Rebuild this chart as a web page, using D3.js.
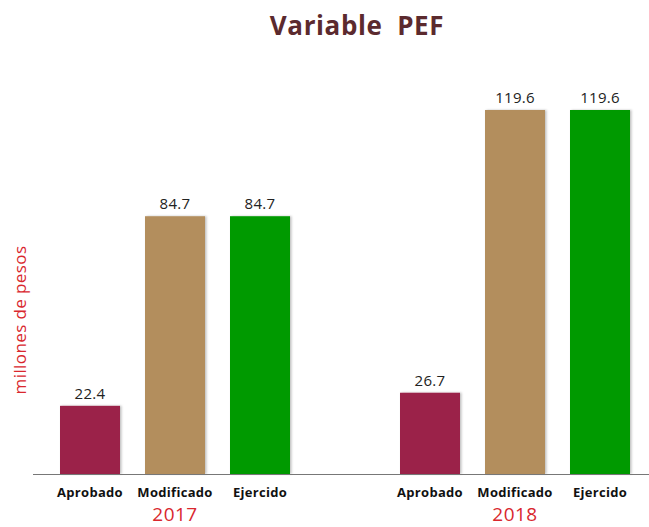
<!DOCTYPE html>
<meta charset="utf-8">
<style type="text/css">
  body { margin: 0; background: #fff; }
  svg { display: block; font-family: "Open Sans", "Noto Sans", sans-serif; }
</style>
<svg width="649" height="527"></svg>
<script src="https://d3js.org/d3.v7.min.js"></script>
<script>

var years = ["2017", "2018"];
var categories = ["Aprobado", "Modificado", "Ejercido"];
var values2017 = [22.4, 84.7, 84.7];
var values2018 = [26.7, 119.6, 119.6];
var colors = ["#9b2448", "#b38e5d", "#009a00"];

var svg = d3.select("svg"),
    width = +svg.attr("width"),
    height = +svg.attr("height");

var data = [];
years.forEach(function(y, i){
  var vals = i == 0 ? values2017 : values2018;
  categories.forEach(function(c, j){
    data.push({year: y, cat: c, value: vals[j]});
  });
});

var baseline = 474;

var y = d3.scaleLinear()
    .domain([0, 119.6])
    .range([baseline, 110]);

var x0 = d3.scaleBand()
    .domain(years)
    .range([5, 685]);

var x1 = d3.scaleBand()
    .domain(categories)
    .range([-115, 115])
    .paddingInner(25 / 85);

var color = d3.scaleOrdinal().domain(categories).range(colors);

var defs = svg.append("defs");
var f = defs.append("filter").attr("id", "shadow")
  .attr("x", "-10%").attr("y", "-10%").attr("width", "130%").attr("height", "130%");
f.append("feDropShadow").attr("dx", 1.5).attr("dy", 0).attr("stdDeviation", 1)
  .attr("flood-color", "#000").attr("flood-opacity", 0.25);

// title
svg.append("text")
  .attr("x", 357).attr("y", 35)
  .attr("text-anchor", "middle")
  .attr("font-size", 26).attr("font-weight", "bold")
  .attr("letter-spacing", 0.6)
  .attr("fill", "#5b2a2e")
  .style("white-space", "pre")
  .text("Variable  PEF");

// y label
svg.append("text")
  .attr("transform", "translate(26,320) rotate(-90)")
  .attr("text-anchor", "middle")
  .attr("font-size", 17)
  .attr("letter-spacing", 0.4)
  .attr("fill", "#d9272e")
  .text("millones de pesos");

function barX(d) { return x0(d.year) + x0.bandwidth() / 2 + x1(d.cat); }

svg.append("g").selectAll("rect")
  .data(data).enter().append("rect")
  .attr("x", barX)
  .attr("y", function(d){ return y(d.value); })
  .attr("width", x1.bandwidth())
  .attr("height", function(d){ return baseline - y(d.value); })
  .attr("fill", function(d){ return color(d.cat); })
  .attr("filter", "url(#shadow)");

svg.append("g").selectAll("text")
  .data(data).enter().append("text")
  .attr("x", function(d){ return barX(d) + x1.bandwidth() / 2; })
  .attr("y", function(d){ return y(d.value) - 7; })
  .attr("text-anchor", "middle")
  .attr("font-size", 15)
  .attr("letter-spacing", 0.3)
  .attr("fill", "#222")
  .text(function(d){ return d.value.toFixed(1); });

// axis line
svg.append("line")
  .attr("x1", 33).attr("x2", 649)
  .attr("y1", baseline + 0.5).attr("y2", baseline + 0.5)
  .attr("stroke", "#777").attr("stroke-width", 1.2);

// category labels
svg.append("g").selectAll("text")
  .data(data).enter().append("text")
  .attr("x", function(d){ return barX(d) + x1.bandwidth() / 2; })
  .attr("y", 497)
  .attr("text-anchor", "middle")
  .attr("font-size", 13).attr("font-weight", "bold")
  .attr("letter-spacing", 0.3)
  .attr("fill", "#111")
  .text(function(d){ return d.cat; });

// year labels
svg.append("g").selectAll("text")
  .data(years).enter().append("text")
  .attr("x", function(d){ return x0(d) + x0.bandwidth() / 2; })
  .attr("y", 521)
  .attr("text-anchor", "middle")
  .attr("font-size", 19)
  .attr("letter-spacing", 0.5)
  .attr("fill", "#d9272e")
  .text(function(d){ return d; });

</script>
